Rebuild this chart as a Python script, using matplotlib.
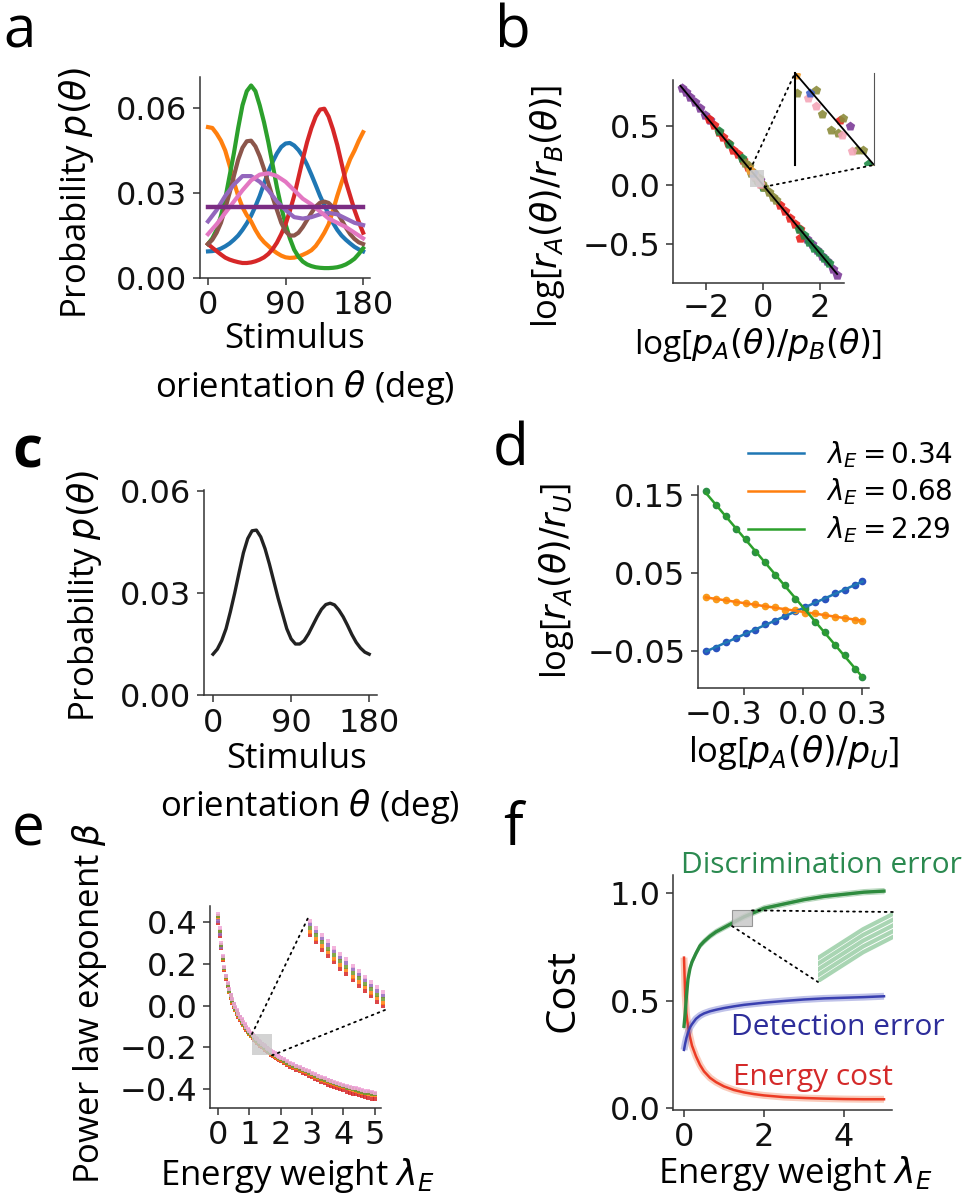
import matplotlib
matplotlib.use('Agg')
import matplotlib.pyplot as plt
from matplotlib.patches import Rectangle, ConnectionPatch
from matplotlib.transforms import ScaledTranslation

plt.rcParams['font.family'] = ['Open Sans', 'DejaVu Sans']
plt.rcParams['mathtext.fontset'] = 'dejavusans'

# ---------------- data ----------------
# panel a: prior distributions
theta_5 = list(range(0, 181, 5))
theta_10 = list(range(0, 181, 10))
p_blue = [0.0094, 0.0095, 0.0098, 0.0104, 0.0112, 0.0122, 0.0135, 0.015, 0.017, 0.0193, 0.022,
          0.0253, 0.029, 0.0333, 0.0375, 0.041, 0.044, 0.0463, 0.0475, 0.0477, 0.0468, 0.0452,
          0.043, 0.040, 0.0365, 0.0328, 0.029, 0.0257, 0.0225, 0.0195, 0.017, 0.015, 0.0135,
          0.0122, 0.011, 0.0101, 0.0094]
p_orange = [0.0533, 0.053, 0.051, 0.0485, 0.045, 0.0398, 0.034, 0.029, 0.025, 0.0222, 0.020,
            0.017, 0.0145, 0.0127, 0.0113, 0.0099, 0.0088, 0.0079, 0.0073, 0.0071, 0.0072, 0.0076,
            0.0082, 0.0089, 0.0098, 0.0113, 0.0135, 0.016, 0.019, 0.0238, 0.029, 0.0337, 0.038,
            0.042, 0.045, 0.0485, 0.0515]
p_green = [0.012, 0.014, 0.017, 0.022, 0.028, 0.036, 0.044, 0.053, 0.061, 0.066, 0.068, 0.066,
           0.061, 0.055, 0.048, 0.040, 0.032, 0.025, 0.019, 0.014, 0.010, 0.0075, 0.0058, 0.0048,
           0.0042, 0.0038, 0.0036, 0.0035, 0.0035, 0.0036, 0.0038, 0.0042, 0.0048, 0.0057, 0.0068,
           0.0085, 0.0105]
p_red = [0.012, 0.0107, 0.0095, 0.0083, 0.0072, 0.0065, 0.006, 0.0056, 0.0053, 0.0053, 0.0055,
         0.0059, 0.0065, 0.0073, 0.0085, 0.0102, 0.0125, 0.0155, 0.019, 0.0237, 0.029, 0.0355,
         0.042, 0.048, 0.053, 0.057, 0.0595, 0.0598, 0.057, 0.0525, 0.047, 0.0405, 0.034, 0.029,
         0.024, 0.0198, 0.016]
p_pink = [0.0155, 0.019, 0.023, 0.027, 0.031, 0.0345, 0.0365, 0.037, 0.036, 0.034, 0.031, 0.028,
          0.026, 0.0235, 0.021, 0.0195, 0.018, 0.016, 0.014]
p_violet = [0.020, 0.024, 0.029, 0.033, 0.036, 0.036, 0.034, 0.031, 0.027, 0.024, 0.0215, 0.021,
            0.0215, 0.0225, 0.023, 0.0225, 0.021, 0.0195, 0.0187]
p_uniform = [0.025] * 19

# panel c (also the brown prior in panel a)
p_c = [0.0120, 0.0135, 0.0160, 0.0195, 0.0245, 0.0300, 0.0360, 0.0418, 0.0460, 0.0483, 0.0485,
       0.0465, 0.0430, 0.0385, 0.0335, 0.0285, 0.0240, 0.0195, 0.0165, 0.0150, 0.0150, 0.0160,
       0.0180, 0.0205, 0.0230, 0.0252, 0.0266, 0.0270, 0.0265, 0.0250, 0.0230, 0.0205, 0.0178,
       0.0155, 0.0138, 0.0126, 0.0120]

# panel b: log response ratio vs log prior ratio
b_purple_x = [-2.84, -2.70, -2.56, -2.38, -2.21, -2.02, -1.86, 1.54, 1.72, 1.90, 2.08, 2.25, 2.46, 2.60, -0.105]
b_purple_y = [0.82, 0.79, 0.75, 0.70, 0.65, 0.59, 0.55, -0.46, -0.50, -0.55, -0.60, -0.64, -0.71, -0.76, 0.0464]
b_red_x = [-1.90, -1.72, -1.55, -1.40, -1.22, -1.05, -0.88, -0.70, -0.52, 0.60, 0.78, 0.95, 1.12, 1.30, 1.30, -0.165]
b_red_y = [0.56, 0.51, 0.45, 0.41, 0.36, 0.30, 0.26, 0.21, 0.15, -0.17, -0.22, -0.28, -0.33, -0.37, -0.45, 0.0566]
b_green_x = [-1.55, -1.20, -0.75, 1.25, 1.45, 1.62, 1.80, 1.98, 2.15, 2.30, 0.015]
b_green_y = [0.46, 0.35, 0.23, -0.37, -0.42, -0.48, -0.53, -0.57, -0.62, -0.66, -0.0131]
b_olive_x = [-0.65, -0.50, 0.05, 0.20, 0.35, 0.45, -0.44, -0.315, -0.28, -0.145, -0.22, -0.175, -0.06, -0.02]
b_olive_y = [0.19, 0.16, -0.02, -0.06, -0.10, -0.13, 0.0986, 0.103, 0.0653, 0.0595, 0.0406, 0.0363, 0.0087, 0.0087]
b_pink_x = [-0.365, -0.315, -0.155, -0.09]
b_pink_y = [0.0914, 0.0783, 0.0334, 0.0073]
b_blue_x = [-0.355]
b_blue_y = [0.0986]
b_orange_x = [-0.445]
b_orange_y = [0.1276]
b_fit_x = [-2.9, 2.6]
b_fit_y = [0.841, -0.754]

# panel d
d_x = [-0.49, -0.44, -0.39, -0.34, -0.29, -0.24, -0.19, -0.14, -0.09, -0.04, 0.01, 0.06, 0.11, 0.16, 0.21, 0.26, 0.30]
d_blue = [-0.051, -0.046, -0.039, -0.034, -0.027, -0.023, -0.016, -0.012, -0.005, 0.001, 0.006, 0.013, 0.017, 0.024, 0.028, 0.035, 0.040]
d_orange = [0.019, 0.017, 0.015, 0.013, 0.011, 0.010, 0.007, 0.006, 0.003, 0.002, -0.001, -0.002, -0.004, -0.006, -0.008, -0.010, -0.012]
d_green = [0.155, 0.137, 0.124, 0.107, 0.094, 0.077, 0.064, 0.047, 0.034, 0.017, 0.004, -0.013, -0.026, -0.043, -0.056, -0.073, -0.084]
d_fit_x = [-0.49, 0.30]
d_fit_blue = [-0.051, 0.039]
d_fit_orange = [0.0186, -0.0114]
d_fit_green = [0.153, -0.084]
d_labels = [r'$\lambda_E = 0.34$', r'$\lambda_E = 0.68$', r'$\lambda_E = 2.29$']

# panel e: power-law exponent vs energy weight
lam_e = [0.00, 0.05, 0.10, 0.15, 0.20, 0.25, 0.30, 0.35, 0.40, 0.45,
         0.50, 0.55, 0.60, 0.65, 0.70, 0.75, 0.80, 0.85, 0.90, 0.95,
         1.00, 1.05, 1.10, 1.15, 1.20, 1.25, 1.30, 1.35, 1.40, 1.45,
         1.50, 1.55, 1.60, 1.65, 1.70, 1.75, 1.80, 1.85, 1.90, 1.95,
         2.00,
         2.1, 2.2, 2.3, 2.4, 2.5, 2.6, 2.7, 2.8, 2.9, 3.0,
         3.1, 3.2, 3.3, 3.4, 3.5, 3.6, 3.7, 3.8, 3.9, 4.0,
         4.1, 4.2, 4.3, 4.4, 4.5, 4.6, 4.7, 4.8, 4.9, 5.0]
beta_green = [0.430, 0.358, 0.290, 0.228, 0.178, 0.136, 0.101, 0.071, 0.045, 0.022,
              0.002, -0.015, -0.031, -0.046, -0.060, -0.074, -0.087, -0.098, -0.109, -0.120,
              -0.130, -0.139, -0.147, -0.155, -0.163, -0.170, -0.177, -0.184, -0.190, -0.197,
              -0.203, -0.209, -0.215, -0.221, -0.226, -0.232, -0.237, -0.242, -0.247, -0.252,
              -0.257,
              -0.265, -0.273, -0.281, -0.288, -0.295, -0.302, -0.309, -0.315, -0.322, -0.329,
              -0.336, -0.343, -0.350, -0.356, -0.362, -0.367, -0.372, -0.377, -0.382, -0.387,
              -0.392, -0.396, -0.400, -0.404, -0.408, -0.412, -0.416, -0.419, -0.422, -0.425]
beta_purple = [0.405, 0.345, 0.283, 0.232, 0.182, 0.140, 0.105, 0.075, 0.049, 0.026,
               0.006, -0.011, -0.027, -0.042, -0.056, -0.070, -0.083, -0.094, -0.105, -0.116,
               -0.126, -0.135, -0.143, -0.151, -0.159, -0.166, -0.173, -0.180, -0.186, -0.193,
               -0.199, -0.205, -0.211, -0.217, -0.222, -0.228, -0.233, -0.238, -0.243, -0.248,
               -0.253,
               -0.261, -0.269, -0.277, -0.284, -0.291, -0.298, -0.305, -0.311, -0.318, -0.325,
               -0.332, -0.339, -0.346, -0.352, -0.358, -0.363, -0.368, -0.373, -0.378, -0.383,
               -0.388, -0.392, -0.396, -0.400, -0.404, -0.408, -0.412, -0.415, -0.418, -0.421]
beta_pink = [0.440, 0.370, 0.300, 0.236, 0.186, 0.144, 0.109, 0.079, 0.053, 0.030,
             0.010, -0.007, -0.023, -0.038, -0.052, -0.066, -0.079, -0.090, -0.101, -0.112,
             -0.122, -0.131, -0.139, -0.147, -0.155, -0.162, -0.169, -0.176, -0.182, -0.189,
             -0.195, -0.201, -0.207, -0.213, -0.218, -0.224, -0.229, -0.234, -0.239, -0.244,
             -0.249,
             -0.257, -0.265, -0.273, -0.280, -0.287, -0.294, -0.301, -0.307, -0.314, -0.321,
             -0.328, -0.335, -0.342, -0.348, -0.354, -0.359, -0.364, -0.369, -0.374, -0.379,
             -0.384, -0.388, -0.392, -0.396, -0.400, -0.404, -0.408, -0.411, -0.414, -0.417]
beta_orange = [0.420, 0.352, 0.286, 0.224, 0.174, 0.132, 0.097, 0.067, 0.041, 0.018,
               -0.002, -0.019, -0.035, -0.050, -0.064, -0.078, -0.091, -0.102, -0.113, -0.124,
               -0.134, -0.143, -0.151, -0.159, -0.167, -0.174, -0.181, -0.188, -0.194, -0.201,
               -0.207, -0.213, -0.219, -0.225, -0.230, -0.236, -0.241, -0.246, -0.251, -0.256,
               -0.261,
               -0.269, -0.277, -0.285, -0.292, -0.299, -0.306, -0.313, -0.319, -0.326, -0.333,
               -0.340, -0.347, -0.354, -0.360, -0.366, -0.371, -0.376, -0.381, -0.386, -0.391,
               -0.396, -0.400, -0.404, -0.408, -0.412, -0.416, -0.420, -0.423, -0.426, -0.429]
beta_red = [0.395, 0.335, 0.278, 0.220, 0.170, 0.128, 0.093, 0.063, 0.037, 0.014,
            -0.006, -0.023, -0.039, -0.054, -0.068, -0.082, -0.095, -0.106, -0.117, -0.128,
            -0.138, -0.147, -0.155, -0.163, -0.171, -0.178, -0.185, -0.192, -0.198, -0.205,
            -0.211, -0.217, -0.223, -0.229, -0.234, -0.240, -0.245, -0.251, -0.256, -0.261,
            -0.266,
            -0.275, -0.283, -0.292, -0.299, -0.307, -0.314, -0.322, -0.328, -0.336, -0.343,
            -0.351, -0.358, -0.366, -0.372, -0.379, -0.384, -0.390, -0.395, -0.401, -0.406,
            -0.412, -0.416, -0.421, -0.425, -0.430, -0.434, -0.439, -0.442, -0.446, -0.449]

# panel f: costs vs energy weight
lam_f = [0.0, 0.03, 0.06, 0.1, 0.15, 0.2, 0.3, 0.4, 0.5, 0.65, 0.8, 1.0, 1.25, 1.5, 1.75,
         2.0, 2.5, 3.0, 3.5, 4.0, 4.5, 5.0]
disc_run1 = [0.368, 0.428, 0.508, 0.588, 0.638, 0.668, 0.708, 0.743, 0.763, 0.788, 0.808, 0.828,
             0.853, 0.878, 0.898, 0.918, 0.938, 0.958, 0.973, 0.983, 0.993, 0.998]
disc_run2 = [0.374, 0.434, 0.514, 0.594, 0.644, 0.674, 0.714, 0.749, 0.769, 0.794, 0.814, 0.834,
             0.859, 0.884, 0.904, 0.924, 0.944, 0.964, 0.979, 0.989, 0.999, 1.004]
disc_run3 = [0.380, 0.440, 0.520, 0.600, 0.650, 0.680, 0.720, 0.755, 0.775, 0.800, 0.820, 0.840,
             0.865, 0.890, 0.910, 0.930, 0.950, 0.970, 0.985, 0.995, 1.005, 1.010]
disc_run4 = [0.386, 0.446, 0.526, 0.606, 0.656, 0.686, 0.726, 0.761, 0.781, 0.806, 0.826, 0.846,
             0.871, 0.896, 0.916, 0.936, 0.956, 0.976, 0.991, 1.001, 1.011, 1.016]
disc_run5 = [0.392, 0.452, 0.532, 0.612, 0.662, 0.692, 0.732, 0.767, 0.787, 0.812, 0.832, 0.852,
             0.877, 0.902, 0.922, 0.942, 0.962, 0.982, 0.997, 1.007, 1.017, 1.022]
detect_err = [0.27, 0.30, 0.325, 0.35, 0.375, 0.39, 0.415, 0.43, 0.44, 0.45, 0.457, 0.465,
              0.473, 0.48, 0.485, 0.49, 0.498, 0.505, 0.51, 0.513, 0.516, 0.52]
energy_cost = [0.70, 0.52, 0.44, 0.38, 0.33, 0.29, 0.24, 0.20, 0.17, 0.14, 0.12, 0.10, 0.083,
               0.072, 0.064, 0.058, 0.05, 0.046, 0.043, 0.041, 0.04, 0.04]

# ---------------- figure ----------------
W, H = 970, 1200
fig = plt.figure(figsize=(W / 100, H / 100), dpi=100)

TICK = 23
LAB = 25


def axes_px(l, t, r, b):
    return fig.add_axes([l / W, 1 - b / H, (r - l) / W, (b - t) / H])


def style(ax):
    for s in ['top', 'right']:
        ax.spines[s].set_visible(False)
    for s in ['left', 'bottom']:
        ax.spines[s].set_linewidth(1.1)
        ax.spines[s].set_color('#333333')
    ax.tick_params(labelsize=TICK, labelfontfamily='DejaVu Sans', length=5, width=1.1,
                   pad=4, color='#333333', labelcolor='#111111')


def ftext(x, y, s, **kw):
    return fig.text(x / W, 1 - y / H, s, **kw)


def ylab(x, y, s, size=LAB):
    ftext(x, y, s, rotation=90, ha='center', va='center', fontsize=size)


def letter(x, y, s, **kw):
    ftext(x, y, s, fontsize=42, ha='left', va='baseline', **kw)


def connect(ax_main, xy_main, ax_ins, xy_ins):
    con = ConnectionPatch(xyA=xy_main, coordsA=ax_main.transData,
                          xyB=xy_ins, coordsB=ax_ins.transAxes,
                          linestyle=(0, (1, 2.5)), color='black', lw=1.3, zorder=10)
    fig.add_artist(con)


# ----- panel a -----
ax = axes_px(200, 77, 370, 278)
style(ax)
ax.plot(theta_5, p_blue, color='#1f77b4', lw=3)
ax.plot(theta_5, p_orange, color='#ff7f0e', lw=3)
ax.plot(theta_5, p_green, color='#2ca02c', lw=3)
ax.plot(theta_5, p_red, color='#d62728', lw=3)
ax.plot(theta_5, p_c, color='#8c564b', lw=3)
ax.plot(theta_10, p_violet, color='#9467bd', lw=3)
ax.plot(theta_10, p_pink, color='#e377c2', lw=3)
ax.plot(theta_10, p_uniform, color='#7b2c83', lw=3.2)
ax.set_xlim(-9.3, 188)
ax.set_ylim(0, 0.071)
ax.set_xticks([0, 90, 180])
ax.set_yticks([0.0, 0.03, 0.06])
ax.set_yticklabels(['0.00', '0.03', '0.06'])
letter(3, 47, 'a')
ylab(77, 193, r'Probability $p(\theta)$')
ftext(295, 348, 'Stimulus', ha='center', va='baseline', fontsize=LAB)
ftext(305, 397, r'orientation $\theta$ (deg)', ha='center', va='baseline', fontsize=LAB)

# ----- panel b -----
ax = axes_px(673, 80, 844, 283)
style(ax)
groups_b = [(b_purple_x, b_purple_y, '#7d3c98'), (b_red_x, b_red_y, '#e8221e'),
            (b_green_x, b_green_y, '#1e8a46'), (b_olive_x, b_olive_y, '#8c8c3c'),
            (b_pink_x, b_pink_y, '#f4a6b8'), (b_blue_x, b_blue_y, '#4060c8'),
            (b_orange_x, b_orange_y, '#f5a030')]
for gx, gy, col in groups_b:
    ax.scatter(gx, gy, s=55, marker='p', color=col, linewidths=0, alpha=0.9)
ax.plot(b_fit_x, b_fit_y, color='black', lw=1.3)
ax.set_xlim(-3.16, 2.84)
ax.set_ylim(-0.83, 0.89)
ax.set_xticks([-2, 0, 2])
ax.set_yticks([-0.5, 0.0, 0.5])
ax.tick_params(axis='x', pad=2)
bx0, bx1, by0, by1 = -0.45, 0.05, -0.0145, 0.1305
ax.add_patch(Rectangle((bx0, by0), bx1 - bx0, by1 - by0, facecolor='#cfcfcf', edgecolor='none',
                       alpha=0.9, zorder=5))
axi = axes_px(795, 73, 874, 165)
for gx, gy, col in groups_b:
    axi.scatter(gx, gy, s=50, marker='p', color=col, linewidths=0, alpha=0.9)
axi.plot(b_fit_x, b_fit_y, color='black', lw=1.3)
axi.set_xlim(bx0, bx1)
axi.set_ylim(by0, by1)
axi.set_xticks([])
axi.set_yticks([])
axi.patch.set_alpha(0)
for s in ['top', 'bottom']:
    axi.spines[s].set_visible(False)
axi.spines['left'].set_linewidth(1.5)
axi.spines['right'].set_linewidth(0.8)
axi.spines['right'].set_color('#555555')
connect(ax, (bx0, by1), axi, (0, 1))
connect(ax, (bx1, by0), axi, (1, 0))
letter(495, 47, 'b')
ylab(548, 207, r'log[$r_A(\theta)/r_B(\theta)$]')
ftext(758, 354, r'log[$p_A(\theta)/p_B(\theta)$]', ha='center', va='baseline', fontsize=24)

# ----- panel c -----
ax = axes_px(204, 490, 377, 695)
style(ax)
ax.plot(theta_5, p_c, color='#222222', lw=2.4)
ax.set_xlim(-10.4, 189)
ax.set_ylim(0, 0.0603)
ax.set_xticks([0, 90, 180])
ax.set_yticks([0.0, 0.03, 0.06])
ax.set_yticklabels(['0.00', '0.03', '0.06'])
letter(12, 467, 'c', fontweight='bold')
ylab(85, 596, r'Probability $p(\theta)$')
ftext(297, 768, 'Stimulus', ha='center', va='baseline', fontsize=LAB)
ftext(310, 816, r'orientation $\theta$ (deg)', ha='center', va='baseline', fontsize=LAB)

# ----- panel d -----
ax = axes_px(698, 486, 869, 688)
style(ax)
ax.plot(d_x, d_blue, ls='none', marker='o', ms=5.5, color='#2a52be', mew=0)
ax.plot(d_x, d_orange, ls='none', marker='o', ms=5.5, color='#f89b1c', mew=0)
ax.plot(d_x, d_green, ls='none', marker='o', ms=5.5, color='#2b8f45', mew=0)
l1, = ax.plot(d_fit_x, d_fit_blue, color='#1f77b4', lw=1.8, label=d_labels[0])
l2, = ax.plot(d_fit_x, d_fit_orange, color='#ff7f0e', lw=1.8, label=d_labels[1])
l3, = ax.plot(d_fit_x, d_fit_green, color='#2ca02c', lw=1.8, label=d_labels[2])
ax.set_xlim(-0.53, 0.333)
ax.set_ylim(-0.098, 0.162)
ax.set_xticks([-0.3, 0.0, 0.3])
ax.set_yticks([-0.05, 0.05, 0.15])
first = ax.get_xticklabels()[0]
first.set_transform(first.get_transform() + ScaledTranslation(-0.2, 0, fig.dpi_scale_trans))
leg = ax.legend(handles=[l1, l2, l3], loc='upper left', bbox_to_anchor=(748 / W, 1 - 439 / H),
                bbox_transform=fig.transFigure, frameon=False, fontsize=20, handlelength=2.0,
                handletextpad=0.8, labelspacing=0.25, borderpad=0, borderaxespad=0)
letter(493, 465, 'd')
ylab(557, 581, r'log[$r_A(\theta)/r_U$]')
ftext(794, 762, r'log[$p_A(\theta)/p_U$]', ha='center', va='baseline', fontsize=LAB)

# ----- panel e -----
ax = axes_px(210, 906, 381, 1108)
style(ax)
series_e = [(beta_red, '#d62728'), (beta_orange, '#ff7f0e'), (beta_purple, '#9467bd'),
            (beta_green, '#6f9a2c'), (beta_pink, '#f1a7d8')]
for vals, col in series_e:
    ax.plot(lam_e, vals, ls='none', marker='s', ms=3.3, mew=0, color=col, alpha=0.85)
ax.set_xlim(-0.26, 5.2)
ax.set_ylim(-0.49, 0.477)
ax.set_xticks([0, 1, 2, 3, 4, 5])
ax.set_yticks([-0.4, -0.2, 0.0, 0.2, 0.4])
ex0, ex1, ey0, ey1 = 1.08, 1.72, -0.238, -0.136
ax.add_patch(Rectangle((ex0, ey0), ex1 - ex0, ey1 - ey0, facecolor='#c8c8c8', edgecolor='none',
                       alpha=0.8, zorder=5))
axi = axes_px(308, 918, 385, 1010)
for vals, col in series_e:
    axi.plot(lam_e, vals, ls='none', marker='s', ms=3.3, mew=0, color=col, alpha=0.85)
axi.set_xlim(ex0, ex1)
axi.set_ylim(ey0, ey1)
axi.axis('off')
connect(ax, (ex0, ey1), axi, (0, 1))
connect(ax, (ex1, ey0), axi, (1, 0))
letter(12, 845, 'e')
ylab(90, 1003, r'Power law exponent $\beta$')
ftext(297, 1185, r'Energy weight $\lambda_E$', ha='center', va='baseline', fontsize=LAB)

# ----- panel f -----
ax = axes_px(673, 875, 892, 1110)
style(ax)
runs = [disc_run1, disc_run2, disc_run4, disc_run5]
ax.plot(lam_f, energy_cost, color='#f26a3c', lw=5, alpha=0.35, solid_capstyle='butt')
ax.plot(lam_f, energy_cost, color='#ec3b24', lw=1.8)
ax.plot(lam_f, detect_err, color='#4a50c0', lw=5, alpha=0.35, solid_capstyle='butt')
ax.plot(lam_f, detect_err, color='#3a40b0', lw=1.8)
for r in runs:
    ax.plot(lam_f, r, color='#2e8b3e', lw=0.8, alpha=0.35)
ax.plot(lam_f, disc_run3, color='#2e8b3e', lw=2.4)
ax.set_xlim(-0.275, 5.2)
ax.set_ylim(-0.01, 1.085)
ax.set_xticks([0, 2, 4])
ax.set_yticks([0.0, 0.5, 1.0])
fx0, fx1, fy0, fy1 = 1.2, 1.7, 0.847, 0.92
ax.add_patch(Rectangle((fx0, fy0), fx1 - fx0, fy1 - fy0, facecolor='#c8c8c8', edgecolor='#888888',
                       lw=0.8, alpha=0.85, zorder=5))
axi = axes_px(818, 912, 893, 982)
for r in [disc_run1, disc_run2, disc_run3, disc_run4, disc_run5]:
    axi.plot(lam_f, r, color='#8cc89a', lw=3.0, alpha=0.75)
axi.set_xlim(fx0, fx1)
axi.set_ylim(fy0, fy1)
axi.axis('off')
connect(ax, (fx0, fy0), axi, (0, 0))
connect(ax, (fx1, fy1), axi, (1, 1))
ftext(821, 873, 'Discrimination error', color='#2b8a50', ha='center', va='baseline', fontsize=21.5)
ftext(838, 1035, 'Detection error', color='#2d2d9a', ha='center', va='baseline', fontsize=21.5)
ftext(813, 1085, 'Energy cost', color='#d42a2a', ha='center', va='baseline', fontsize=21.5)
letter(503, 845, 'f')
ylab(563, 990, 'Cost', size=29)
ftext(795, 1183, r'Energy weight $\lambda_E$', ha='center', va='baseline', fontsize=LAB)

fig.savefig('out.png', dpi=100)
